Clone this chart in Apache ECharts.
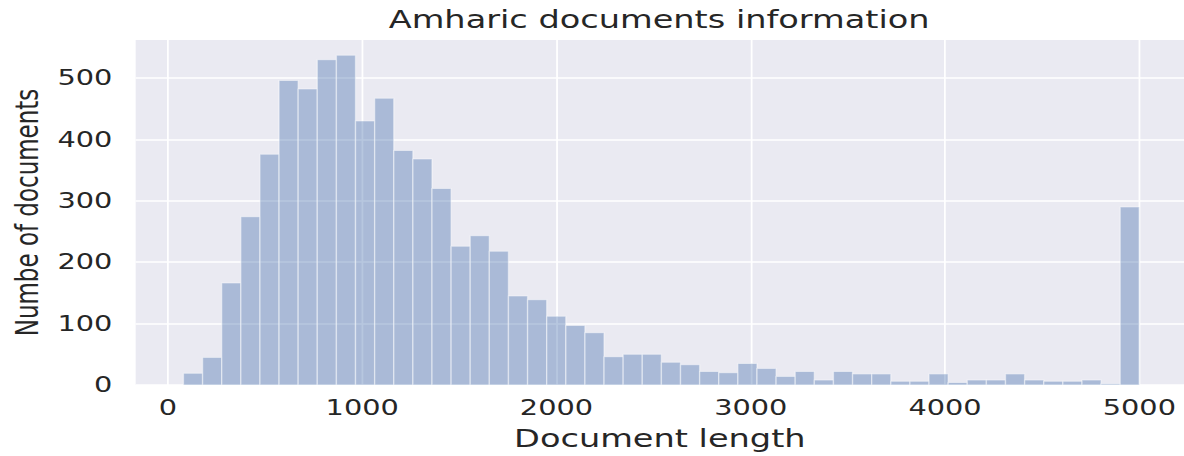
<!DOCTYPE html>
<html>
<head>
<meta charset="utf-8">
<script src="https://cdn.jsdelivr.net/npm/echarts@6/dist/echarts.min.js"></script>
<style>
  html, body {
    margin: 0;
    padding: 0;
    background: #ffffff;
    overflow: hidden;
  }
  /* the reference picture is stretched sideways, so the chart is too */
  #chart {
    width: 864px;
    height: 456px;
    transform: scaleX(1.37037);
    transform-origin: 0 0;
  }
</style>
</head>
<body>
<div id="chart"></div>
<script>
// histogram of document lengths, 50 equal bins
const binMin = 80;
const binMax = 5000;
const counts = [
  19, 45, 166, 274, 376, 496, 482, 530, 537, 430,
  467, 382, 368, 320, 226, 243, 218, 145, 139, 112,
  97, 85, 46, 50, 50, 37, 33, 22, 20, 35,
  27, 14, 22, 8, 22, 18, 18, 6, 6, 18,
  4, 8, 8, 18, 8, 6, 6, 8, 2, 290
];
const xTicks = [0, 1000, 2000, 3000, 4000, 5000];
const yTicks = [0, 100, 200, 300, 400, 500];

const titleText = 'Amharic documents information';
const xName = 'Document length';
const yName = 'Numbe of documents';

const binWidth = (binMax - binMin) / counts.length;
const bins = counts.map((c, i) => [binMin + i * binWidth, binMin + (i + 1) * binWidth, c]);

const textColor = '#262626';
const fontFamily = 'DejaVu Sans';

const chart = echarts.init(document.getElementById('chart'), null, { renderer: 'svg' });

chart.setOption({
  backgroundColor: '#ffffff',
  animation: false,
  title: {
    text: titleText,
    left: 481,
    top: 7,
    padding: 0,
    textAlign: 'center',
    textStyle: {
      color: textColor,
      fontFamily: fontFamily,
      fontWeight: 'normal',
      fontSize: 24.5
    }
  },
  grid: {
    left: 97.3,
    right: 0,
    top: 40,
    bottom: 66,
    show: true,
    backgroundColor: '#eaeaf2',
    borderWidth: 0
  },
  xAxis: {
    type: 'value',
    min: -166,
    max: 5230,
    name: xName,
    nameLocation: 'middle',
    nameGap: 41,
    nameTextStyle: {
      color: textColor,
      fontFamily: fontFamily,
      fontSize: 24.5
    },
    axisLine: { show: false },
    axisTick: { show: false, customValues: xTicks },
    axisLabel: {
      customValues: xTicks,
      formatter: (v) => String(v),
      color: textColor,
      fontFamily: fontFamily,
      fontSize: 21,
      margin: 12
    },
    splitLine: {
      show: true,
      lineStyle: { color: '#ffffff', width: 1.3 }
    }
  },
  yAxis: {
    type: 'value',
    min: 0,
    max: 562,
    name: yName,
    nameLocation: 'middle',
    nameGap: 68,
    nameTextStyle: {
      color: textColor,
      fontFamily: fontFamily,
      fontSize: 23
    },
    axisLine: { show: false },
    axisTick: { show: false, customValues: yTicks },
    axisLabel: {
      customValues: yTicks,
      formatter: (v) => String(v),
      color: textColor,
      fontFamily: fontFamily,
      fontSize: 21,
      margin: 17
    },
    splitLine: {
      show: true,
      lineStyle: { color: '#ffffff', width: 1.6 }
    }
  },
  series: [
    {
      type: 'custom',
      data: bins,
      encode: { x: [0, 1], y: 2 },
      renderItem: function (params, api) {
        const p0 = api.coord([api.value(0), api.value(2)]);
        const p1 = api.coord([api.value(1), 0]);
        return {
          type: 'rect',
          shape: { x: p0[0], y: p0[1], width: p1[0] - p0[0], height: p1[1] - p0[1] },
          style: {
            fill: 'rgba(76, 114, 176, 0.4)',
            stroke: 'rgba(255, 255, 255, 0.45)',
            lineWidth: 1
          }
        };
      }
    }
  ]
});
</script>
</body>
</html>
